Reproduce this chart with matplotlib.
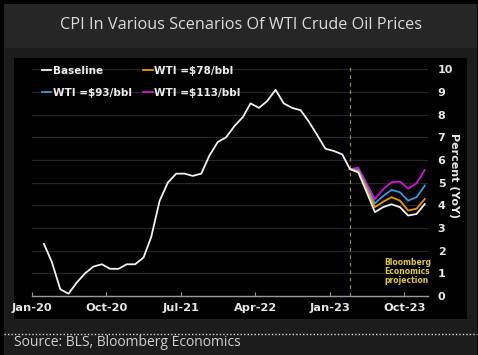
import numpy as np
import pandas as pd
import matplotlib
matplotlib.use("Agg")
import matplotlib.pyplot as plt
import matplotlib.dates as mdates
from matplotlib.patches import Rectangle
from matplotlib.lines import Line2D

# monthly CPI YoY, Feb-2020 .. Mar-2023 (actual), then projections to Dec-2023
baseline = [2.3, 1.5, 0.3, 0.1, 0.6, 1.0, 1.3, 1.4, 1.2, 1.2, 1.4,
            1.4, 1.7, 2.6, 4.2, 5.0, 5.4, 5.4, 5.3, 5.4, 6.2, 6.8, 7.0,
            7.5, 7.9, 8.5, 8.3, 8.6, 9.1, 8.5, 8.3, 8.2, 7.7, 7.1, 6.5,
            6.4, 6.25, 5.6,
            5.45, 4.6, 3.7, 3.92, 4.05, 3.92, 3.55, 3.62, 4.06]
proj_start = "2023-03-15"
wti78 = [5.6, 5.5, 4.75, 3.92, 4.16, 4.36, 4.21, 3.77, 3.85, 4.28]
wti93 = [5.6, 5.55, 4.85, 4.09, 4.41, 4.68, 4.58, 4.21, 4.36, 4.87]
wti113 = [5.6, 5.66, 4.98, 4.27, 4.71, 5.02, 5.05, 4.74, 4.97, 5.56]

dates = pd.date_range("2020-02-01", periods=len(baseline), freq="MS") + pd.Timedelta(days=14)
pdates = pd.date_range("2023-03-01", periods=len(wti78), freq="MS") + pd.Timedelta(days=14)

W, H = 478, 355
fig = plt.figure(figsize=(W / 100, H / 100), dpi=100, facecolor="black")

def px_rect(x0, y0, x1, y1, color):
    # rectangle in pixel coords measured from top-left
    r = Rectangle((x0 / W, 1 - y1 / H), (x1 - x0) / W, (y1 - y0) / H,
                  transform=fig.transFigure, facecolor=color, edgecolor="none", zorder=-5)
    fig.add_artist(r)

px_rect(4, 4, 477, 48, "#262626")
px_rect(4, 48, 477, 356, "#1c1c1c")
px_rect(14, 58, 467, 319, "black")
fig.add_artist(Line2D([4 / W, 477 / W], [1 - 334 / H] * 2, transform=fig.transFigure,
                      color="#d8d8d8", lw=1.0, ls=(0, (1, 1.5)), zorder=-4))

fig.text(241 / W, 1 - 25 / H, "CPI In Various Scenarios Of WTI Crude Oil Prices",
         ha="center", va="center", color="#dcdcdc", fontsize=11.7, family="Open Sans")
fig.text(14 / W, 1 - 342 / H, "Source: BLS, Bloomberg Economics",
         ha="left", va="center", color="#d0d0d0", fontsize=10, family="Open Sans")

ax = fig.add_axes([31.7 / W, 1 - 296 / H, (428 - 31.7) / W, (296 - 66) / H])
ax.set_facecolor("black")

c_base, c78, c93, c113 = "#f2f2f2", "#f0920f", "#3a9ad9", "#cc18cc"
ax.plot(dates, baseline, color=c_base, lw=1.3, zorder=5, label="Baseline")
ax.plot(pdates, wti93, color=c93, lw=1.3, zorder=4, label="WTI =$93/bbl")
ax.plot(pdates, wti78, color=c78, lw=1.3, zorder=4, label="WTI =$78/bbl")
ax.plot(pdates, wti113, color=c113, lw=1.3, zorder=3, label="WTI =$113/bbl")

ax.axvline(pd.Timestamp(proj_start), color="#9a8540", lw=0.9, ls=(0, (3, 3)), zorder=2)

ax.set_xlim(pd.Timestamp("2020-01-01"), pd.Timestamp("2023-12-27"))
ax.set_ylim(0, 10.15)
ax.set_yticks(range(0, 11))
ax.grid(axis="y", color="#262626", lw=0.9)
ax.set_axisbelow(True)

ticks = pd.to_datetime(["2020-01-01", "2020-10-01", "2021-07-01", "2022-04-01",
                        "2023-01-01", "2023-10-01"])
ax.set_xticks(ticks)
ax.xaxis.set_major_formatter(mdates.DateFormatter("%b-%y"))

for s in ["top", "left", "right"]:
    ax.spines[s].set_visible(False)
ax.spines["bottom"].set_color("#9a9a9a")
ax.spines["bottom"].set_linewidth(1.0)

ax.yaxis.tick_right()
ax.tick_params(axis="y", length=0, pad=7, labelcolor="#e6e6e6", labelsize=8)
ax.tick_params(axis="x", direction="in", length=3, color="#9a9a9a", pad=5,
               labelcolor="#e6e6e6", labelsize=8.2)
for lab in ax.get_xticklabels() + ax.get_yticklabels():
    lab.set_fontweight("bold")

ax.yaxis.set_label_position("right")
ax.set_ylabel("Percent (YoY)", rotation=270, color="#e6e6e6", fontsize=8,
              fontweight="bold", labelpad=12)
ax.yaxis.set_label_coords(1.078, 0.525)

ax.text(pd.Timestamp("2023-07-20"), 1.68, "Bloomberg\nEconomics\nprojection",
        color="#e0c64a", fontsize=5.5, fontweight="bold", ha="left", va="top",
        linespacing=1.0)

leg = ax.legend(ncol=2, loc="upper left", bbox_to_anchor=(42 / W, 1 - 66 / H),
                bbox_transform=fig.transFigure, frameon=False, handlelength=0.9,
                handletextpad=0.15, columnspacing=1.1, labelspacing=1.15,
                borderpad=0, borderaxespad=0,
                prop={"weight": "bold", "size": 7.5})
for t in leg.get_texts():
    t.set_color("#eeeeee")

fig.savefig("out.png", dpi=100, facecolor="black")
